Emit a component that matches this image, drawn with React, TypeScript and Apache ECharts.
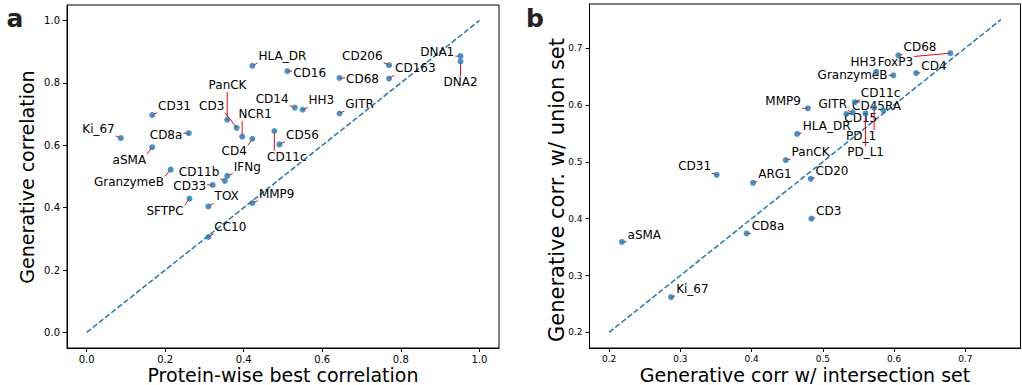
import React, { useEffect, useRef } from 'react';
import * as echarts from 'echarts';

// ---------- Panel a ----------
const NAMES_A = ['HLA_DR', 'CD16', 'CD31', 'PanCK', 'CD3', 'NCR1', 'CD4', 'CD14', 'HH3', 'Ki_67', 'CD8a', 'aSMA', 'CD11c', 'CD56', 'GranzymeB', 'CD11b', 'IFNg', 'CD33', 'SFTPC', 'TOX', 'MMP9', 'CC10', 'CD206', 'CD163', 'CD68', 'GITR', 'DNA1', 'DNA2'];
const PROTEIN_BEST_A = [0.422, 0.511, 0.167, 0.358, 0.382, 0.396, 0.422, 0.530, 0.550, 0.087, 0.260, 0.167, 0.478, 0.491, 0.214, 0.352, 0.358, 0.321, 0.262, 0.310, 0.422, 0.310, 0.770, 0.770, 0.644, 0.644, 0.952, 0.952];
const GENERATIVE_A = [0.855, 0.838, 0.697, 0.682, 0.656, 0.628, 0.621, 0.721, 0.714, 0.623, 0.639, 0.594, 0.646, 0.603, 0.522, 0.486, 0.502, 0.473, 0.429, 0.404, 0.415, 0.306, 0.857, 0.814, 0.816, 0.702, 0.886, 0.869];
const DIAG_A = [[0, 0], [1, 1]];
const TICKS_A = [0, 0.2, 0.4, 0.6, 0.8, 1.0];

// ---------- Panel b ----------
const NAMES_B = ['CD68', 'FoxP3', 'HH3', 'GranzymeB', 'CD4', 'CD11c', 'GITR', 'CD45RA', 'CD15', 'PD_1', 'PD_L1', 'MMP9', 'HLA_DR', 'PanCK', 'CD20', 'CD3', 'CD31', 'ARG1', 'CD8a', 'aSMA', 'Ki_67'];
const INTERSECTION_B = [0.606, 0.679, 0.575, 0.599, 0.631, 0.545, 0.542, 0.585, 0.533, 0.572, 0.560, 0.479, 0.464, 0.448, 0.483, 0.484, 0.351, 0.402, 0.393, 0.218, 0.287];
const UNION_B = [0.687, 0.691, 0.658, 0.652, 0.656, 0.605, 0.587, 0.590, 0.584, 0.595, 0.585, 0.594, 0.549, 0.503, 0.470, 0.400, 0.477, 0.463, 0.374, 0.359, 0.262];
const DIAG_B = [[0.2, 0.2], [0.75, 0.75]];
const TICKS_B = [0.2, 0.3, 0.4, 0.5, 0.6, 0.7];

// label placement: pixel offset of each label's centre from its point
const LABEL_OFFSET_A = [[30, -9.7], [22.3, 1.7], [22.3, -9.3], [0.3, -35], [-25, -22], [13, -22.7], [-18.2, 12.7], [-22.6, -9], [18.7, -9.3], [-22.3, -9.3], [-22.7, 1.7], [-22.9, 12.7], [12.4, 25.7], [23, -9.7], [-41.7, 12.7], [-25.8, -9], [20, -9.3], [-23, 1.4], [-24.5, 12.7], [18.3, -10], [24.3, -9.3], [22, -10], [-26.7, -9.6], [26.3, -10.4], [23, 1], [20, -9.4], [-23.3, -4.3], [0, 20.7]];
const LABEL_OFFSET_B = [[21.7, -8], [-55, 9.3], [-12.8, -9.7], [-40.8, 0], [17.8, -7.3], [25.7, -9.4], [-20, -8.7], [-6.8, -4.3], [14.4, 4.4], [-13, 28.4], [0, 38.7], [-24.7, -7], [29.5, -8], [24.8, -8], [21.3, -8.3], [17.3, -8], [-22, -8.6], [22, -8.7], [21.4, -7], [22.4, -7.3], [21.3, -8.3]];

const FONT = 'DejaVu Sans';
const BLUE = '#1f77b4';

let measureCtx: CanvasRenderingContext2D | null = null;
function textWidth(s: string, size: number): number {
  if (!measureCtx) measureCtx = document.createElement('canvas').getContext('2d');
  if (!measureCtx) return s.length * size * 0.6;
  measureCtx.font = `${size}px "${FONT}"`;
  return measureCtx.measureText(s).width;
}

function labelSeries(names: string[], xs: number[], ys: number[], offsets: number[][], idx: number) {
  return {
    type: 'custom',
    xAxisIndex: idx,
    yAxisIndex: idx,
    silent: true,
    z: 3,
    data: xs.map((x, i) => [x, ys[i]]),
    renderItem: (params: any, api: any) => {
      const i = params.dataIndex;
      const p = api.coord([api.value(0), api.value(1)]);
      const name = names[i];
      const [dx, dy] = offsets[i];
      const cx = p[0] + dx;
      const cy = p[1] + dy;
      const w = textWidth(name, 12);
      const h = 12;
      const x0 = cx - w / 2 - 1, x1 = cx + w / 2 + 1;
      const y0 = cy - h / 2, y1 = cy + h / 2 + 1;
      const nx = Math.min(Math.max(p[0], x0), x1);
      const ny = Math.min(Math.max(p[1], y0), y1);
      const children: any[] = [];
      if (Math.hypot(nx - p[0], ny - p[1]) > 1.5) {
        children.push({
          type: 'line',
          shape: { x1: p[0], y1: p[1], x2: nx, y2: ny },
          style: { stroke: '#ff0000', lineWidth: 1 },
        });
      }
      children.push({
        type: 'text',
        x: cx,
        y: cy,
        style: { text: name, fontSize: 12, fontFamily: FONT, fill: '#000', align: 'center', verticalAlign: 'middle' },
      });
      return { type: 'group', children };
    },
  };
}

function makeAxis(idx: number, min: number, max: number, ticks: number[], fontSize: number, isX: boolean) {
  return {
    gridIndex: idx,
    type: 'value',
    min,
    max,
    splitLine: { show: false },
    axisLine: { show: true, onZero: false, lineStyle: { color: '#000', width: 1 } },
    axisTick: { show: true, inside: false, length: 4, customValues: ticks, lineStyle: { color: '#000', width: 1 } },
    axisLabel: {
      customValues: ticks,
      formatter: (v: number) => v.toFixed(1),
      fontSize,
      fontFamily: FONT,
      color: '#000',
      margin: isX ? 6 : 7,
    },
  };
}

export default function App() {
  const ref = useRef<HTMLDivElement>(null);
  useEffect(() => {
    if (!ref.current) return;
    const chart = echarts.init(ref.current, null, { renderer: 'svg' });
    chart.setOption({
      animation: false,
      backgroundColor: '#fff',
      grid: [
        { left: 67, top: 5, width: 432, height: 343, show: true, borderColor: '#000', borderWidth: 1 },
        { left: 589.5, top: 4, width: 431, height: 344, show: true, borderColor: '#000', borderWidth: 1 },
      ],
      xAxis: [makeAxis(0, -0.05, 1.05, TICKS_A, 10, true), makeAxis(1, 0.1725, 0.7775, TICKS_B, 9, true)],
      yAxis: [makeAxis(0, -0.05, 1.05, TICKS_A, 10, false), makeAxis(1, 0.1725, 0.7775, TICKS_B, 9, false)],
      series: [
        {
          type: 'line', xAxisIndex: 0, yAxisIndex: 0, data: DIAG_A, showSymbol: false, silent: true, z: 1,
          lineStyle: { color: BLUE, width: 1.5, type: [5.5, 2.4] },
        },
        {
          type: 'line', xAxisIndex: 1, yAxisIndex: 1, data: DIAG_B, showSymbol: false, silent: true, z: 1,
          lineStyle: { color: BLUE, width: 1.5, type: [5.5, 2.4] },
        },
        labelSeries(NAMES_A, PROTEIN_BEST_A, GENERATIVE_A, LABEL_OFFSET_A, 0),
        labelSeries(NAMES_B, INTERSECTION_B, UNION_B, LABEL_OFFSET_B, 1),
        {
          type: 'scatter', xAxisIndex: 0, yAxisIndex: 0, symbolSize: 6, z: 4, silent: true,
          itemStyle: { color: BLUE }, data: PROTEIN_BEST_A.map((x, i) => [x, GENERATIVE_A[i]]),
        },
        {
          type: 'scatter', xAxisIndex: 1, yAxisIndex: 1, symbolSize: 6, z: 4, silent: true,
          itemStyle: { color: BLUE }, data: INTERSECTION_B.map((x, i) => [x, UNION_B[i]]),
        },
      ],
      graphic: [
        { type: 'text', x: 15, y: 18, style: { text: 'a', fontSize: 25, fontWeight: 'bold', fontFamily: FONT, fill: '#222', align: 'center', verticalAlign: 'middle' } },
        { type: 'text', x: 535, y: 18, style: { text: 'b', fontSize: 25, fontWeight: 'bold', fontFamily: FONT, fill: '#222', align: 'center', verticalAlign: 'middle' } },
        { type: 'text', x: 283, y: 375, style: { text: 'Protein-wise best correlation', fontSize: 19, fontFamily: FONT, fill: '#000', align: 'center', verticalAlign: 'middle' } },
        { type: 'text', x: 805, y: 375, style: { text: 'Generative corr w/ intersection set', fontSize: 19, fontFamily: FONT, fill: '#000', align: 'center', verticalAlign: 'middle' } },
        { type: 'text', x: 27, y: 177, rotation: Math.PI / 2, style: { text: 'Generative correlation', fontSize: 19, fontFamily: FONT, fill: '#000', align: 'center', verticalAlign: 'middle' } },
        { type: 'text', x: 557, y: 190, rotation: Math.PI / 2, style: { text: 'Generative corr. w/ union set', fontSize: 21, fontFamily: FONT, fill: '#000', align: 'center', verticalAlign: 'middle' } },
      ],
    });
    return () => chart.dispose();
  }, []);
  return <div ref={ref} style={{ position: 'absolute', left: 0, top: 0, width: 1022, height: 385, background: '#fff' }} />;
}
